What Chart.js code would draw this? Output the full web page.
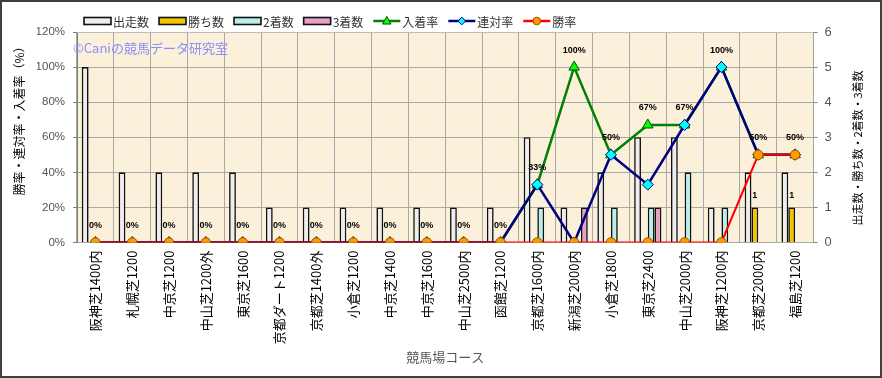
<!DOCTYPE html>
<html>
<head>
<meta charset="utf-8">
<script src="https://cdn.jsdelivr.net/npm/chart.js@4"></script>
<style>
html, body { margin: 0; padding: 0; background: #fff; }
</style>
</head>
<body>
<canvas id="myChart" width="882" height="378"></canvas>
<script>
const courses = ['阪神芝1400内', '札幌芝1200', '中京芝1200', '中山芝1200外', '東京芝1600', '京都ダート1200',
	'京都芝1400外', '小倉芝1200', '中京芝1400', '中京芝1600', '中山芝2500内', '函館芝1200',
	'京都芝1600内', '新潟芝2000内', '小倉芝1800', '東京芝2400', '中山芝2000内', '阪神芝1200内',
	'京都芝2000内', '福島芝1200']
const starts  = [5, 2, 2, 2, 2, 1, 1, 1, 1, 1, 1, 1, 3, 1, 2, 3, 3, 1, 2, 2]
const wins    = [0, 0, 0, 0, 0, 0, 0, 0, 0, 0, 0, 0, 0, 0, 0, 0, 0, 0, 1, 1]
const seconds = [0, 0, 0, 0, 0, 0, 0, 0, 0, 0, 0, 0, 1, 0, 1, 1, 2, 1, 0, 0]
const thirds  = [0, 0, 0, 0, 0, 0, 0, 0, 0, 0, 0, 0, 0, 1, 0, 1, 0, 0, 0, 0]
const placeRate  = [0, 0, 0, 0, 0, 0, 0, 0, 0, 0, 0, 0, 33, 100, 50, 67, 67, 100, 50, 50]
const rentaiRate = [0, 0, 0, 0, 0, 0, 0, 0, 0, 0, 0, 0, 33, 0, 50, 33, 67, 100, 50, 50]
const winRate    = [0, 0, 0, 0, 0, 0, 0, 0, 0, 0, 0, 0, 0, 0, 0, 0, 0, 0, 50, 50]
const rateTicks  = [0, 20, 40, 60, 80, 100, 120]
const countTicks = [0, 1, 2, 3, 4, 5, 6]

const JP = "'Noto Sans CJK JP', sans-serif"
const ARIAL = "'Liberation Sans', Arial, sans-serif"
Chart.defaults.font.family = JP

// legend is drawn by hand so it can sit where the original one does
function drawLegend(chart) {
	const ctx = chart.ctx
	let x = 84
	const y = 21
	ctx.save()
	ctx.font = '12px ' + JP
	ctx.textBaseline = 'middle'
	for (let ds of chart.data.datasets) {
		if (ds.type === 'bar') {
			ctx.fillStyle = ds.backgroundColor
			ctx.fillRect(x, y - 3.5, 27, 7)
			ctx.strokeStyle = '#111'
			ctx.lineWidth = 1.6
			ctx.strokeRect(x, y - 3.5, 27, 7)
		} else {
			ctx.strokeStyle = ds.borderColor
			ctx.lineWidth = 2.5
			ctx.beginPath(); ctx.moveTo(x, y); ctx.lineTo(x + 27, y); ctx.stroke()
			drawMarker(ctx, ds.pointStyle, x + 13.5, y, 3.8, ds.pointBackgroundColor, ds.pointBorderColor)
		}
		x += 29
		ctx.fillStyle = '#333'
		ctx.fillText(ds.label, x, y + 1)
		x += ctx.measureText(ds.label).width + 10
	}
	ctx.restore()
}

function drawMarker(ctx, style, x, y, r, fill, stroke) {
	ctx.beginPath()
	if (style === 'triangle') {
		ctx.moveTo(x, y - r * 1.2); ctx.lineTo(x + r * 1.1, y + r * 0.8); ctx.lineTo(x - r * 1.1, y + r * 0.8)
	} else if (style === 'rectRot') {
		ctx.moveTo(x, y - r); ctx.lineTo(x + r, y); ctx.lineTo(x, y + r); ctx.lineTo(x - r, y)
	} else {
		ctx.arc(x, y, r, 0, Math.PI * 2)
	}
	ctx.closePath()
	ctx.fillStyle = fill; ctx.fill()
	ctx.lineWidth = 1; ctx.strokeStyle = stroke; ctx.stroke()
}

const decor = {
	id: 'decor',
	beforeDraw(chart) {
		const {ctx, chartArea: a} = chart
		ctx.save()
		ctx.fillStyle = '#fff'
		ctx.fillRect(0, 0, chart.width, chart.height)
		ctx.fillStyle = '#FBF0DA'
		ctx.fillRect(a.left, a.top, a.right - a.left, a.bottom - a.top)
		ctx.restore()
	},
	beforeDatasetsDraw(chart) {
		const ctx = chart.ctx
		ctx.save()
		ctx.font = '13px ' + JP
		ctx.fillStyle = '#8C8CFF'
		ctx.textBaseline = 'middle'
		ctx.fillText('©Caniの競馬データ研究室', 73, 48)
		ctx.restore()
	},
	afterDatasetsDraw(chart) {
		const ctx = chart.ctx
		ctx.save()
		ctx.font = 'bold 9px ' + ARIAL
		ctx.fillStyle = '#000'
		ctx.textAlign = 'center'
		ctx.textBaseline = 'middle'
		chart.getDatasetMeta(4).data.forEach((pt, i) => {
			ctx.fillText(placeRate[i] + '%', pt.x, pt.y - 17)
		})
		chart.getDatasetMeta(1).data.forEach((bar, i) => {
			if (wins[i] > 0) ctx.fillText(String(wins[i]), bar.x, bar.y - 12)
		})
		ctx.restore()
	},
	afterDraw(chart) {
		const {ctx, chartArea: a} = chart
		ctx.save()
		ctx.strokeStyle = '#BDBDBD'
		ctx.lineWidth = 1
		ctx.beginPath()
		ctx.moveTo(a.left, a.top + 0.5); ctx.lineTo(a.right, a.top + 0.5)
		ctx.stroke()
		// axis titles rotated to read bottom-to-top on both sides
		ctx.fillStyle = '#000'
		ctx.textAlign = 'center'
		ctx.textBaseline = 'middle'
		ctx.translate(19, 118); ctx.rotate(-Math.PI / 2)
		ctx.font = '12px ' + JP
		ctx.fillText('勝率・連対率・入着率（%）', 0, 0)
		ctx.setTransform(1, 0, 0, 1, 0, 0)
		ctx.translate(858, 148); ctx.rotate(-Math.PI / 2)
		ctx.font = '11px ' + JP
		ctx.fillText('出走数・勝ち数・2着数・3着数', 0, 0)
		ctx.setTransform(1, 0, 0, 1, 0, 0)
		ctx.strokeStyle = '#404040'
		ctx.lineWidth = 2
		ctx.strokeRect(1, 1, chart.width - 2, chart.height - 2)
		ctx.restore()
		drawLegend(chart)
	}
}

const barBase = { type: 'bar', yAxisID: 'y1', borderColor: '#111', borderWidth: 1.6, order: 10 }

var ctx = document.getElementById('myChart').getContext('2d')
var myChart = new Chart(ctx, {
	data: {
		labels: courses,
		datasets: [
			Object.assign({}, barBase, { label: '出走数', data: starts, backgroundColor: '#EEEEEE' }),
			Object.assign({}, barBase, { label: '勝ち数', data: wins, backgroundColor: '#F5C400' }),
			Object.assign({}, barBase, { label: '2着数', data: seconds, backgroundColor: '#B8F0F0' }),
			Object.assign({}, barBase, { label: '3着数', data: thirds, backgroundColor: '#E8A0C8' }),
			{
				type: 'line', label: '入着率', data: placeRate, yAxisID: 'y', order: 3,
				borderColor: '#008000', borderWidth: 2.5, pointStyle: 'triangle', pointRadius: 6,
				pointBackgroundColor: '#00FF00', pointBorderColor: '#005000', pointBorderWidth: 1
			},
			{
				type: 'line', label: '連対率', data: rentaiRate, yAxisID: 'y', order: 2,
				borderColor: '#000080', borderWidth: 2.5, pointStyle: 'rectRot', pointRadius: 5.5,
				pointBackgroundColor: '#00FFFF', pointBorderColor: '#000080', pointBorderWidth: 1
			},
			{
				type: 'line', label: '勝率', data: winRate, yAxisID: 'y', order: 1,
				borderColor: '#FF0000', borderWidth: 2, pointStyle: 'circle', pointRadius: 4.8,
				pointBackgroundColor: '#FF9900', pointBorderColor: '#9A5200', pointBorderWidth: 1
			}
		]
	},
	options: {
		responsive: false,
		devicePixelRatio: 1,
		animation: false,
		layout: { padding: { top: 32, left: 37, right: 50.5, bottom: 9 } },
		datasets: { bar: { categoryPercentage: 0.74, barPercentage: 1.0 } },
		plugins: { legend: { display: false }, tooltip: { enabled: false } },
		scales: {
			x: {
				grid: { color: '#A8A8A8', borderDash: [2, 2], drawTicks: false, offset: true },
				border: { display: false },
				ticks: { autoSkip: false, minRotation: 90, maxRotation: 90, padding: 8, color: '#000', font: { size: 13, family: JP } },
				title: { display: true, text: '競馬場コース', color: '#555', font: { size: 13, family: JP }, padding: { top: 4, bottom: 4 } },
				afterFit(scale) { scale.height = 378 - 9 - 32 - 210.5 }
			},
			y: {
				position: 'left', min: 0, max: 120,
				afterBuildTicks(scale) { scale.ticks = rateTicks.map(v => ({ value: v })) },
				grid: { color: '#A8A8A8', borderDash: [2, 2], tickLength: 4, tickColor: '#808080', tickBorderDash: [] },
				border: { display: true, color: '#808080', width: 1 },
				ticks: { padding: 8, color: '#555', font: { size: 11.5, family: ARIAL }, callback: v => v + '%' },
				afterFit(scale) { scale.width = 40 }
			},
			y1: {
				position: 'right', min: 0, max: 6,
				afterBuildTicks(scale) { scale.ticks = countTicks.map(v => ({ value: v })) },
				grid: { drawOnChartArea: false, tickLength: 4, tickColor: '#808080' },
				border: { display: true, color: '#A0A0A0', width: 1 },
				ticks: { padding: 7, color: '#555', font: { size: 13, family: ARIAL } },
				afterFit(scale) { scale.width = 18 }
			}
		}
	},
	plugins: [decor]
})
</script>
</body>
</html>
